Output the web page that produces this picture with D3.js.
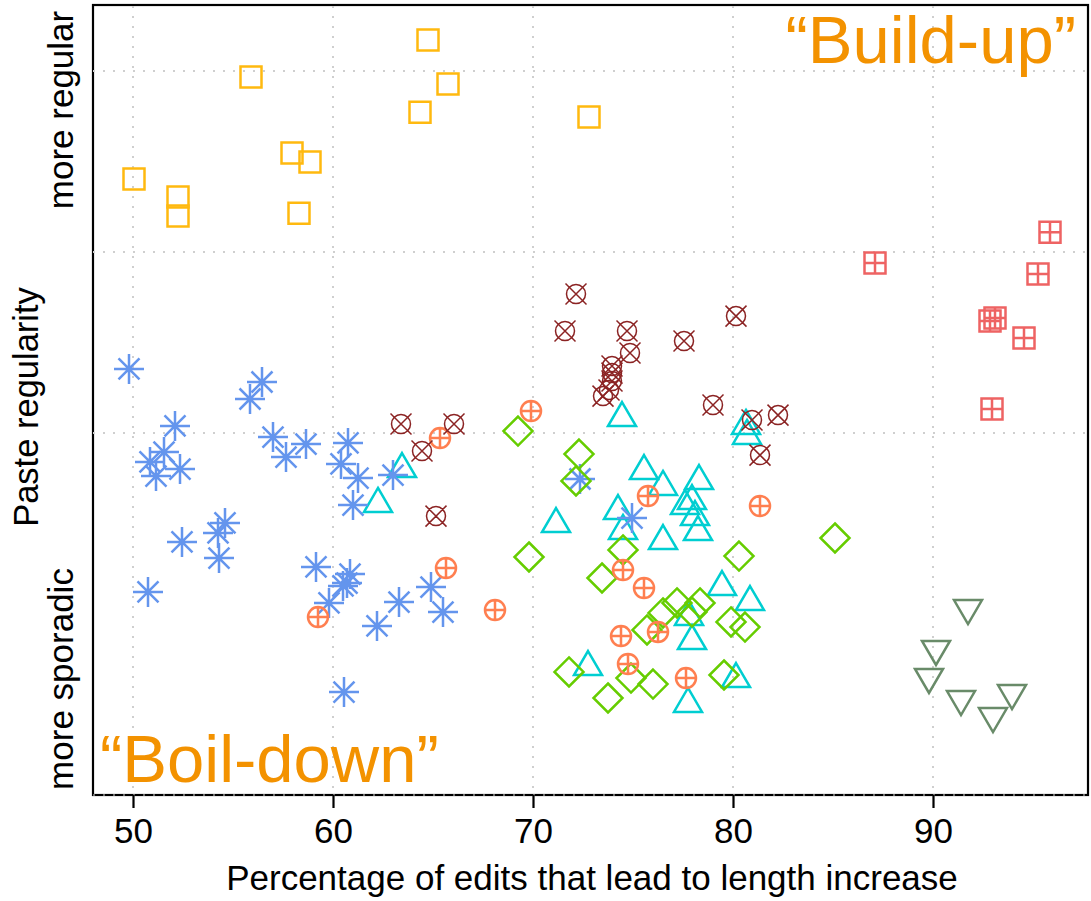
<!DOCTYPE html>
<html>
<head>
<meta charset="utf-8">
<script src="https://cdn.jsdelivr.net/npm/d3@7"></script>
<style>
  html, body { margin: 0; padding: 0; background: #fff; }
  svg { display: block; font-family: "Liberation Sans", Arial, Helvetica, sans-serif; }
</style>
</head>
<body>
<svg id="chart" width="1091" height="901"></svg>
<script>
// ---------------- data ----------------
const xTicks = [50, 60, 70, 80, 90];
const yGrid = [0, 2, 3, 4];
const xTitle = "Percentage of edits that lead to length increase";
const yTitle = "Paste regularity";
const yTopLabel = "more regular";
const yBottomLabel = "more sporadic";
const buildUpLabel = "\u201cBuild-up\u201d";
const boilDownLabel = "\u201cBoil-down\u201d";

const squares = [[64.75,4.171],[55.9,3.967],[65.75,3.928],[64.35,3.773],[72.8,3.746],[57.95,3.547],[58.85,3.497],[50.05,3.403],[52.25,3.304],[52.25,3.199],[58.3,3.215]];
const boxPlus = [[95.85,3.110],[87.1,2.939],[95.25,2.878],[92.85,2.619],[93.1,2.635],[94.55,2.525],[92.95,2.133]];
const circleX = [[72.15,2.768],[71.6,2.564],[74.7,2.564],[77.55,2.508],[80.15,2.646],[74.85,2.442],[73.95,2.370],[73.95,2.331],[73.95,2.287],[73.8,2.238],[73.5,2.204],[79.0,2.155],[80.95,2.072],[82.25,2.099],[81.35,1.878],[63.4,2.050],[66.05,2.050],[64.45,1.901],[65.15,1.541]];
const circlePlus = [[69.9,2.122],[65.35,1.972],[75.75,1.652],[81.35,1.597],[74.5,1.243],[75.55,1.144],[74.4,0.878],[76.25,0.901],[74.75,0.724],[77.65,0.646],[68.1,1.022],[65.65,1.254],[59.25,0.983]];
const diamonds = [[69.25,2.011],[72.3,1.884],[72.15,1.735],[69.8,1.315],[74.5,1.354],[73.45,1.199],[80.3,1.320],[85.1,1.420],[77.2,1.061],[78.35,1.061],[77.95,1.011],[76.5,1.006],[75.7,0.912],[79.9,0.956],[80.6,0.928],[71.8,0.680],[74.9,0.646],[76.0,0.613],[73.75,0.536],[79.55,0.663]];
const triangles = [[74.45,2.105],[80.65,2.061],[80.7,2.006],[63.45,1.823],[62.25,1.630],[75.55,1.812],[76.5,1.724],[78.3,1.757],[77.95,1.646],[77.6,1.619],[78.1,1.558],[78.25,1.475],[74.25,1.591],[74.5,1.481],[76.5,1.425],[71.15,1.519],[79.45,1.171],[80.85,1.088],[77.8,1.006],[77.95,0.873],[72.75,0.729],[80.15,0.663],[77.75,0.525]];
const asterisks = [[49.8,2.354],[56.45,2.282],[55.85,2.188],[52.1,2.039],[51.55,1.895],[50.85,1.840],[51.15,1.762],[52.35,1.801],[57.0,1.978],[57.65,1.867],[58.65,1.939],[60.75,1.945],[60.4,1.829],[61.25,1.751],[61.0,1.602],[63.0,1.768],[54.6,1.503],[54.25,1.448],[54.3,1.309],[52.45,1.398],[50.75,1.122],[59.15,1.260],[60.85,1.221],[60.7,1.171],[60.5,1.155],[59.8,1.061],[64.9,1.149],[63.3,1.066],[65.5,1.011],[62.2,0.934],[60.55,0.569],[72.35,1.746],[74.95,1.530]];
const downTriangles = [[91.75,1.011],[90.15,0.785],[89.8,0.630],[91.4,0.508],[93.95,0.541],[93.0,0.414]];

// ---------------- layout ----------------
const svg = d3.select("#chart");
const L = 93, R = 1088, T = 5, B = 795;
const x = d3.scaleLinear().domain([48, 97.75]).range([L, R]);
const y = d3.scaleLinear().domain([0, 4.365]).range([B, T]);

// frame
svg.append("rect").attr("x", L).attr("y", T).attr("width", R - L).attr("height", B - T)
  .attr("fill", "none").attr("stroke", "#000").attr("stroke-width", 2.2);

// gridlines
const grid = svg.append("g").attr("stroke", "#cfcfcf").attr("stroke-width", 2)
  .attr("stroke-dasharray", "2,8");
grid.selectAll("line.v").data(xTicks).join("line").attr("class", "v")
  .attr("x1", d => x(d)).attr("x2", d => x(d)).attr("y1", T + 1).attr("y2", B - 1);
grid.selectAll("line.h").data(yGrid).join("line").attr("class", "h")
  .attr("x1", L).attr("x2", R).attr("y1", d => y(d)).attr("y2", d => y(d))
  .attr("stroke-width", d => d === 0 ? 1 : 2);

// x axis
const xAxis = svg.append("g").attr("transform", `translate(0,${B})`)
  .call(d3.axisBottom(x).tickValues(xTicks).tickSize(13).tickPadding(8).tickFormat(d3.format("d")));
xAxis.select(".domain").remove();
xAxis.selectAll(".tick line").attr("stroke", "#000").attr("stroke-width", 2.2);
xAxis.selectAll(".tick text").attr("font-size", 35).attr("fill", "#000")
  .attr("font-family", "Liberation Sans, Arial, sans-serif").attr("dy", null).attr("y", 48);

// titles
svg.append("text").attr("x", 592).attr("y", 890).attr("text-anchor", "middle")
  .attr("font-size", 35).attr("fill", "#000").text(xTitle);
svg.append("text").attr("transform", "translate(38,407) rotate(-90)").attr("text-anchor", "middle")
  .attr("font-size", 34.5).attr("fill", "#000").text(yTitle);
svg.append("text").attr("transform", "translate(73,110) rotate(-90)").attr("text-anchor", "middle")
  .attr("font-size", 35).attr("fill", "#000").text(yTopLabel);
svg.append("text").attr("transform", "translate(73,679) rotate(-90)").attr("text-anchor", "middle")
  .attr("font-size", 35).attr("fill", "#000").text(yBottomLabel);

// big annotations
svg.append("text").attr("x", 1076).attr("y", 63).attr("text-anchor", "end")
  .attr("font-size", 67).attr("fill", "#F39200").text(buildUpLabel);
svg.append("text").attr("x", 100).attr("y", 782).attr("text-anchor", "start")
  .attr("font-size", 67).attr("fill", "#F39200").text(boilDownLabel);

// ---------------- markers ----------------
const shapes = {
  square: "M-10.5,-10.5H10.5V10.5H-10.5Z",
  boxPlus: "M-10.5,-10.5H10.5V10.5H-10.5Z M0,-10.5V10.5 M-10.5,0H10.5",
  circleX: "M9.5,0A9.5,9.5 0 1,1 -9.5,0A9.5,9.5 0 1,1 9.5,0Z M-10.5,-10.5L10.5,10.5 M-10.5,10.5L10.5,-10.5",
  circlePlus: "M10,0A10,10 0 1,1 -10,0A10,10 0 1,1 10,0Z M0,-10V10 M-10,0H10",
  diamond: "M0,-14.5L14.5,0L0,14.5L-14.5,0Z",
  triangle: "M0,-12L14,12L-14,12Z",
  asterisk: "M-15,0H15 M0,-15V15 M-10.5,-10.5L10.5,10.5 M-10.5,10.5L10.5,-10.5",
  down: "M-14,-12H14L0,12Z"
};

const series = [
  {data: squares, shape: "square", color: "#FFB90F", w: 2.5},
  {data: boxPlus, shape: "boxPlus", color: "#EE6363", w: 2.5},
  {data: triangles, shape: "triangle", color: "#00CED1", w: 2.5},
  {data: asterisks, shape: "asterisk", color: "#6495ED", w: 2.5},
  {data: diamonds, shape: "diamond", color: "#66CD00", w: 2.5},
  {data: circlePlus, shape: "circlePlus", color: "#FF7F50", w: 2.5},
  {data: circleX, shape: "circleX", color: "#8B2323", w: 1.5},
  {data: downTriangles, shape: "down", color: "#698B69", w: 2.5}
];

series.forEach(s => {
  svg.append("g").selectAll("path").data(s.data).join("path")
    .attr("transform", d => `translate(${x(d[0])},${y(d[1])})`)
    .attr("d", shapes[s.shape])
    .attr("fill", "none").attr("stroke", s.color).attr("stroke-width", s.w)
    .attr("stroke-linejoin", "miter");
});
</script>
</body>
</html>
